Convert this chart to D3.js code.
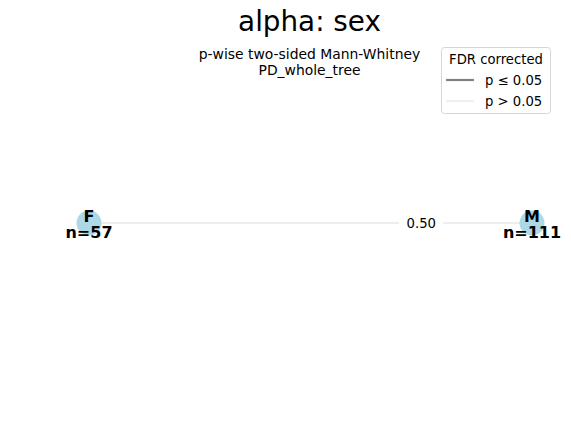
<!DOCTYPE html>
<html><head><meta charset="utf-8">
<script src="https://cdn.jsdelivr.net/npm/d3@7"></script>
<style>body{margin:0;background:#fff}text{font-family:"DejaVu Sans",sans-serif}</style>
</head><body>
<svg id="c" width="571" height="443"></svg>
<script>
const groups = ["F", "M"];
const counts = [57, 111];
const edgeSources = ["F"];
const edgeTargets = ["M"];
const edgePValues = [0.50];
const legendLabels = ["p \u2264 0.05", "p > 0.05"];

const svg = d3.select("#c");
const x = d3.scalePoint().domain(groups).range([89, 532]);
const y0 = 223;

svg.append("text").attr("x", 309.5).attr("y", 31).attr("text-anchor", "middle")
  .attr("font-size", 27.8).text("alpha: sex");
svg.append("text").attr("x", 309.5).attr("y", 59).attr("text-anchor", "middle")
  .attr("font-size", 13.9).text("p-wise two-sided Mann-Whitney");
svg.append("text").attr("x", 309.5).attr("y", 75).attr("text-anchor", "middle")
  .attr("font-size", 13.9).text("PD_whole_tree");

// edges
edgeSources.forEach((s, i) => {
  const t = edgeTargets[i];
  const p = edgePValues[i];
  svg.append("line").attr("x1", x(s)).attr("y1", y0).attr("x2", x(t)).attr("y2", y0)
    .attr("stroke", p <= 0.05 ? "#808080" : "#dcdcdc").attr("stroke-width", 1);
  const lx = x(s) + 0.75 * (x(t) - x(s));
  const lbl = p.toFixed(2);
  svg.append("rect").attr("x", lx - 22).attr("y", y0 - 9).attr("width", 44).attr("height", 18).attr("fill", "#fff");
  svg.append("text").attr("x", lx).attr("y", y0 + 5).attr("text-anchor", "middle")
    .attr("font-size", 13.2).text(lbl);
});

// nodes
groups.forEach((g, i) => {
  svg.append("circle").attr("cx", x(g)).attr("cy", y0).attr("r", 12.5).attr("fill", "#add8e6");
  svg.append("text").attr("x", x(g)).attr("y", y0 - 1).attr("text-anchor", "middle")
    .attr("font-size", 16).attr("font-weight", "bold").text(g);
  svg.append("text").attr("x", x(g)).attr("y", y0 + 15).attr("text-anchor", "middle")
    .attr("font-size", 16).attr("font-weight", "bold").text("n=" + counts[i]);
});

// legend
const lg = svg.append("g");
lg.append("rect").attr("x", 441.5).attr("y", 47.5).attr("width", 109).attr("height", 66).attr("rx", 3)
  .attr("fill", "#fff").attr("fill-opacity", 0.8).attr("stroke", "#d6d6d6");
lg.append("text").attr("x", 496).attr("y", 64).attr("text-anchor", "middle").attr("font-size", 13.2).text("FDR corrected");
lg.append("line").attr("x1", 446).attr("x2", 474).attr("y1", 80).attr("y2", 80).attr("stroke", "#808080").attr("stroke-width", 2.2);
lg.append("text").attr("x", 485).attr("y", 85).attr("font-size", 13.2).text(legendLabels[0]);
lg.append("line").attr("x1", 446).attr("x2", 474).attr("y1", 101).attr("y2", 101).attr("stroke", "#ebebeb").attr("stroke-width", 1.5);
lg.append("text").attr("x", 485).attr("y", 106).attr("font-size", 13.2).text(legendLabels[1]);
</script>
</body></html>
